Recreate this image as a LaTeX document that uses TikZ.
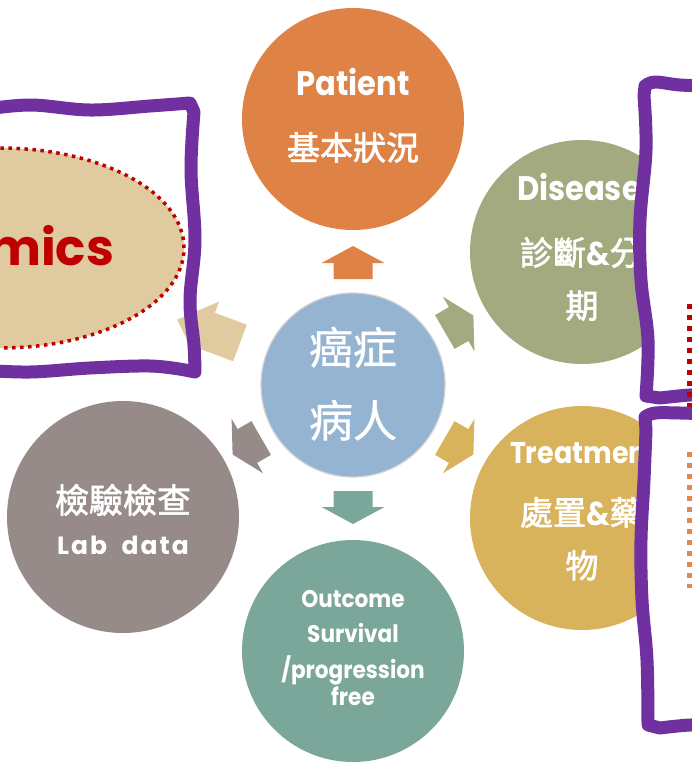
\documentclass[tikz,border=0pt]{standalone}
\usepackage{fontspec}
\usetikzlibrary{shapes.geometric}
\newfontfamily\latf{Poppins}[FakeStretch=0.9]
\newfontfamily\latw{Poppins}[LetterSpace=8]
\newfontfamily\latm{Poppins}
\newfontfamily\cjkf{Noto Sans CJK TC}[FakeBold=2]
\newfontfamily\cjkc{Noto Sans CJK TC}[FakeBold=0.8]
\definecolor{cPat}{HTML}{DE8345}
\definecolor{cDis}{HTML}{A3AA80}
\definecolor{cTre}{HTML}{D9B25C}
\definecolor{cOut}{HTML}{7BA69A}
\definecolor{cLab}{HTML}{968B89}
\definecolor{cTan}{HTML}{E0CBA0}
\definecolor{cCen}{HTML}{94B4D2}
\definecolor{cPur}{HTML}{7030A0}
\definecolor{cRed}{HTML}{C00000}
\definecolor{cOra}{HTML}{E08A50}
\tikzset{
  circ/.style={circle, inner sep=0pt, draw=none},
  txt/.style={inner sep=0pt, outer sep=0pt, text=white, anchor=base},
  pbox/.style={draw=cPur, line width=13pt, line join=round, line cap=round},
  sqdots/.style={line width=6pt, dash pattern=on 5pt off 6pt},
}
\newcommand{\blockarr}[5]{%
  \begin{scope}[shift={(cen.center)}, rotate=#1]
    \fill[#2] (#3,-19.5) -- (#3+#4,-19.5) -- (#3+#4,-31.5) -- (#3+#4+#5,0)
      -- (#3+#4,31.5) -- (#3+#4,19.5) -- (#3,19.5) -- cycle;
  \end{scope}}
\begin{document}
\begin{tikzpicture}[x=1pt, y=-1pt]
\useasboundingbox (0,0) rectangle (692,764);
\clip (0,0) rectangle (692,764);
\fill[white] (0,0) rectangle (692,764);

% circles
\node[circ, fill=cPat, minimum size=222pt] (pat) at (353,119) {};
\node[circ, fill=cDis, minimum size=224pt] (dis) at (582,252) {};
\node[circ, fill=cTre, minimum size=224pt] (tre) at (582,518) {};
\node[circ, fill=cOut, minimum size=222pt] (out) at (353,651) {};
\node[circ, fill=cLab, minimum size=232pt] (lab) at (123,517) {};
\node[circ, fill=cCen, draw=gray!35, line width=1.2pt, minimum size=184pt] (cen) at (353,385) {};

% block arrows
\blockarr{90}{cPat}{106}{16}{17}
\blockarr{30}{cDis}{106}{16}{17}
\blockarr{-30}{cTre}{106}{16}{17}
\blockarr{-90}{cOut}{106}{16}{17}
\blockarr{-150}{cLab}{106}{16}{17}

% texts
\node[txt, font=\latf\bfseries\fontsize{34}{34}\selectfont] (tpat1) at (353,95) {Patient};
\node[txt, font=\cjkf\fontsize{33}{33}\selectfont] (tpat2) at (353,160) {基本狀況};
\node[txt, anchor=base west, font=\latf\bfseries\fontsize{34}{34}\selectfont] (tdis1) at (517,200) {Disease};
\node[txt, anchor=base west, font=\cjkf\fontsize{33}{33}\selectfont] (tdis2) at (520,265) {診斷{\latf\bfseries\&}分};
\node[txt, font=\cjkf\fontsize{33}{33}\selectfont] (tdis3) at (582,318) {期};
\node[txt, anchor=base west, font=\latf\bfseries\fontsize{30}{30}\selectfont] (ttre1) at (510,463) {Treatment};
\node[txt, anchor=base west, font=\cjkf\fontsize{33}{33}\selectfont] (ttre2) at (520,525) {處置{\latf\bfseries\&}藥};
\node[txt, font=\cjkf\fontsize{33}{33}\selectfont] (ttre3) at (582,578) {物};
\node[txt, font=\cjkf\fontsize{34}{34}\selectfont] (tlab1) at (123,513) {檢驗檢查};
\node[txt, font=\latw\bfseries\fontsize{25}{25}\selectfont] (tlab2) at (123,554) {Lab\ \ data};
\node[txt, font=\latf\bfseries\fontsize{24}{24}\selectfont] (tout1) at (353,607) {Outcome};
\node[txt, font=\latf\bfseries\fontsize{24}{24}\selectfont] (tout2) at (353,642) {Survival};
\node[txt, font=\latf\bfseries\fontsize{24}{24}\selectfont] (tout3) at (353,678) {/progression};
\node[txt, font=\latf\bfseries\fontsize{24}{24}\selectfont] (tout4) at (353,705) {free};
\node[txt, font=\cjkc\fontsize{44}{44}\selectfont] (tcen1) at (353,364) {癌症};
\node[txt, font=\cjkc\fontsize{44}{44}\selectfont] (tcen2) at (353,437) {病人};

% left box
\fill[white] plot[smooth,tension=0.6] coordinates {(-20,110) (30,105) (90,110) (150,106) (190,103)}
  -- plot[smooth,tension=0.6] coordinates {(194,112) (191,170) (195,240) (190,300) (194,345) (195,372)}
  -- plot[smooth,tension=0.6] coordinates {(185,370) (150,366) (90,368) (30,372) (-20,370)} -- cycle;
\node[ellipse, fill=cTan, draw=cRed, line width=3.5pt, dash pattern=on 3.5pt off 4.5pt,
  minimum width=368pt, minimum height=200pt, inner sep=0pt] (omics) at (0,248) {};
\node[txt, anchor=base east, text=cRed, font=\latm\bfseries\fontsize{50}{50}\selectfont] (tomics) at (114,265) {mics};
\blockarr{159.6}{cTan}{120.6}{34}{33}
\draw[pbox] plot[smooth,tension=0.6] coordinates {(-20,110) (30,105) (90,110) (150,106) (190,103)}
  -- plot[smooth,tension=0.6] coordinates {(194,112) (191,170) (195,240) (190,300) (194,345) (195,372)}
  -- plot[smooth,tension=0.6] coordinates {(185,370) (150,366) (90,368) (30,372) (-20,370)};

% right boxes
\filldraw[pbox, fill=white] plot[smooth,tension=0.6] coordinates {(712,86) (680,85) (655,82) (645,86)}
  -- plot[smooth,tension=0.6] coordinates {(644,96) (646,150) (640,220) (641,280) (648,340) (646,396)}
  -- plot[smooth,tension=0.6] coordinates {(660,398) (690,395) (712,395)} -- cycle;
\coordinate (rd1) at (690,304);
\coordinate (rd2) at (690,412);
\draw[cRed, sqdots] (rd1) -- (rd2);
\filldraw[pbox, fill=white] plot[smooth,tension=0.6] coordinates {(712,414) (680,413) (655,413) (645,417)}
  -- plot[smooth,tension=0.6] coordinates {(646,430) (644,480) (641,540) (642,600) (647,660) (648,725)}
  -- plot[smooth,tension=0.6] coordinates {(660,728) (690,725) (712,726)} -- cycle;
\coordinate (od1) at (690,452);
\coordinate (od2) at (690,588);
\draw[cOra, sqdots] (od1) -- (od2);
\end{tikzpicture}
\end{document}
